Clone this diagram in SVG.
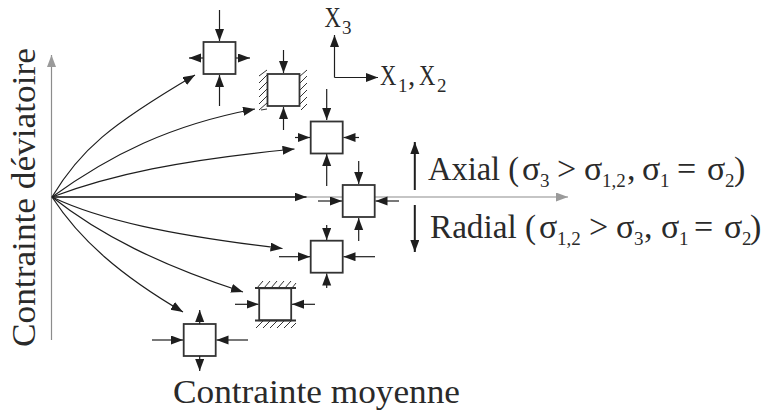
<svg xmlns="http://www.w3.org/2000/svg" width="761" height="410" viewBox="0 0 761 410">
<style>
.t{font-family:"Liberation Serif","DejaVu Serif",serif;fill:#2a2a2a}
.s{font-size:19px}
.x{font-size:29px}
.b{fill:#fff;stroke:#333;stroke-width:1.8}
.a{fill:none;stroke:#1e1e1e;stroke-width:1.2;marker-end:url(#m)}
.c{fill:none;stroke:#1e1e1e;stroke-width:1.2;marker-end:url(#m)}
.g{fill:none;stroke:#8c8c8c;stroke-width:1.2;marker-end:url(#g)}
.h{stroke:#333;stroke-width:1;fill:none}
</style>
<defs>
<marker id="m" markerUnits="userSpaceOnUse" markerWidth="14" markerHeight="10" refX="12" refY="4.500" orient="auto"><path d="M0 0L12 4.500L0 9z" fill="#1e1e1e"/></marker>
<marker id="g" markerUnits="userSpaceOnUse" markerWidth="14" markerHeight="10" refX="12" refY="4.500" orient="auto"><path d="M0 0L12 4.500L0 9z" fill="#9a9a9a"/></marker>
</defs>
<g id="axes">
<path class="g" d="M51.500 340V55"/>
<path class="g" d="M52 197H568"/>
</g>
<g id="connectors">
<path class="c" d="M52 197C80 150 110 125 195 75"/>
<path class="c" d="M52 197C110 155 170 125 255 109"/>
<path class="c" d="M52 197C110 175 180 160 294.500 149"/>
<path class="c" style="stroke-width:1.500" d="M52 197H306.500"/>
<path class="c" d="M52 197C100 220 170 235 282.500 248.500"/>
<path class="c" d="M52 197C100 235 160 265 243 292"/>
<path class="c" d="M52 197C80 240 120 275 183 312"/>
<path d="M414.800 190V142" class="c" style="stroke-width:2"/>
<path d="M414.800 205V252" class="c" style="stroke-width:2"/>
<path d="M334.500 77.500V35" class="c"/>
<path d="M334.500 77.500H378" class="c"/>
</g>
<g id="n1">
<rect class="b" x="203.500" y="42" width="32" height="32"/>
<path class="a" d="M219.500 10V41"/><path class="a" d="M219.500 106V75"/><path class="a" d="M203 58H189"/><path class="a" d="M236 58H250"/>
</g>
<g id="n2">
<rect class="b" x="267.500" y="74" width="32" height="32"/>
<path class="a" d="M283.500 50V73"/><path class="a" d="M283.500 130V107"/>
<path class="h" d="M259 76L267 70M259 83L267 75M259 90L267 82M259 97L267 89M259 104L267 96M259 110L267 103M261 110L267 109"/>
<path class="h" d="M299 77L307 70M299 84L307 76M299 91L307 83M299 98L307 90M299 105L307 97M301 110L307 104"/>
</g>
<g id="n3">
<rect class="b" x="310.700" y="121.500" width="32" height="32"/>
<path class="a" d="M326.700 89V120"/><path class="a" d="M326.700 186V154"/><path class="a" d="M295 137.500H310"/><path class="a" d="M359 137.500H343.500"/>
</g>
<g id="n4">
<rect class="b" x="342.700" y="185" width="32" height="32"/>
<path class="a" d="M358.700 161V184"/><path class="a" d="M358.700 241V218"/><path class="a" d="M318 201H342"/><path class="a" d="M399 201H375.500"/>
</g>
<g id="n5">
<rect class="b" x="310.700" y="240.700" width="32" height="32"/>
<path class="a" d="M326.700 225V240"/><path class="a" d="M326.700 288V273.500"/><path class="a" d="M279 256.700H310"/><path class="a" d="M375 256.700H343.500"/>
</g>
<g id="n6">
<rect class="b" x="259.200" y="288.300" width="32" height="32"/>
<path class="a" d="M235 304.300H258.500"/><path class="a" d="M315 304.300H292"/>
<path class="h" d="M257 288L263 281M264 288L270 281M271 288L277 281M278 288L284 281M285 288L291 281M292 288L296 283"/>
<path class="h" d="M256 328L263 321M263 328L270 321M270 328L277 321M277 328L284 321M284 328L291 321M291 328L296 323"/>
<path class="h" style="stroke-width:1.800" d="M255 288H296M255 320.500H296"/>
</g>
<g id="n7">
<rect class="b" x="183.700" y="324" width="32" height="32"/>
<path class="a" d="M199.700 324V310"/><path class="a" d="M199.700 356V371"/><path class="a" d="M152 340H183"/><path class="a" d="M248 340H216.500"/>
</g>
<g id="labels">
<text class="t" font-size="34" transform="translate(35 347) rotate(-90)" textLength="299" lengthAdjust="spacingAndGlyphs">Contrainte déviatoire</text>
<text class="t" font-size="34" x="173" y="403" textLength="287" lengthAdjust="spacingAndGlyphs">Contrainte moyenne</text>
<text class="t x" transform="translate(324.500 27) scale(.78 1)">X</text>
<text class="t s" x="342" y="34">3</text>
<text class="t x" transform="translate(380 85) scale(.78 1)">X</text>
<text class="t s" x="398" y="92">1</text>
<text class="t x" x="408" y="85">,</text>
<text class="t x" transform="translate(419 85) scale(.78 1)">X</text>
<text class="t s" x="437" y="92">2</text>
<text class="t" font-size="34" x="428" y="180"><tspan textLength="91" lengthAdjust="spacingAndGlyphs">Axial (</tspan><tspan x="522">σ</tspan><tspan class="s" x="540" dy="7">3</tspan><tspan x="557" dy="-7">&gt;</tspan><tspan x="584">σ</tspan><tspan class="s" x="602" dy="7">1,2</tspan><tspan x="627" dy="-7">,</tspan><tspan x="642">σ</tspan><tspan class="s" x="660" dy="7">1</tspan><tspan x="677" dy="-7">=</tspan><tspan x="707">σ</tspan><tspan class="s" x="725" dy="7">2</tspan><tspan x="734" dy="-7">)</tspan></text>
<text class="t" font-size="34" x="430" y="238"><tspan textLength="106" lengthAdjust="spacingAndGlyphs">Radial (</tspan><tspan x="539">σ</tspan><tspan class="s" x="557" dy="7">1,2</tspan><tspan x="589" dy="-7">&gt;</tspan><tspan x="616">σ</tspan><tspan class="s" x="634" dy="7">3</tspan><tspan x="644" dy="-7">,</tspan><tspan x="661">σ</tspan><tspan class="s" x="679" dy="7">1</tspan><tspan x="694" dy="-7">=</tspan><tspan x="724">σ</tspan><tspan class="s" x="742" dy="7">2</tspan><tspan x="750" dy="-7">)</tspan></text>
</g>
</svg>
